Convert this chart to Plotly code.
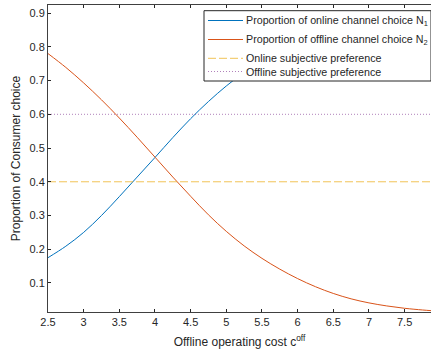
import plotly.graph_objects as go

# Offline operating cost (x) and the proportion of consumers choosing each channel
cost = [2.5, 2.75, 3.0, 3.25, 3.5, 3.75, 4.0, 4.25, 4.5, 4.75, 5.0, 5.25, 5.5,
        5.75, 6.0, 6.25, 6.5, 6.75, 7.0, 7.25, 7.5, 7.75, 7.87]
online_share = [0.175, 0.209, 0.250, 0.300, 0.356, 0.414, 0.472, 0.531, 0.587,
                0.638, 0.684, 0.724, 0.758, 0.787, 0.812, 0.833, 0.850, 0.864,
                0.876, 0.886, 0.894, 0.900, 0.902]
offline_share = [0.780, 0.739, 0.693, 0.643, 0.589, 0.532, 0.473, 0.414, 0.357,
                 0.302, 0.253, 0.210, 0.173, 0.141, 0.113, 0.089, 0.069, 0.053,
                 0.041, 0.032, 0.025, 0.020, 0.018]
online_pref = 0.4
offline_pref = 0.6

x_ticks = [2.5, 3, 3.5, 4, 4.5, 5, 5.5, 6, 6.5, 7, 7.5]
y_ticks = [0.1, 0.2, 0.3, 0.4, 0.5, 0.6, 0.7, 0.8, 0.9]

legend_labels = [
    "Proportion of online channel choice N<sub>1</sub>",
    "Proportion of offline channel choice N<sub>2</sub>",
    "Online subjective preference",
    "Offline subjective preference",
]

FONT = "Liberation Sans, Arial, sans-serif"
INK = "#262626"
W, H = 431, 356
ML, MR, MT, MB = 48, 0, 5, 44
PW, PH = W - ML - MR, H - MT - MB

styles = [
    dict(color="#0072BD", width=1),
    dict(color="#D95319", width=1),
    dict(color="#EDB120", width=1, dash="8px,3px"),
    dict(color="#7E2F8E", width=1, dash="1px,2px"),
]
opacities = [1, 1, 0.75, 0.6]

fig = go.Figure()
fig.add_trace(go.Scatter(x=cost, y=online_share, mode="lines",
                         line=dict(styles[0], shape="spline"), name=legend_labels[0]))
fig.add_trace(go.Scatter(x=cost, y=offline_share, mode="lines",
                         line=dict(styles[1], shape="spline"), name=legend_labels[1]))
fig.add_trace(go.Scatter(x=[cost[0], cost[-1]], y=[online_pref, online_pref], mode="lines",
                         line=styles[2], opacity=opacities[2], name=legend_labels[2]))
fig.add_trace(go.Scatter(x=[cost[0], cost[-1]], y=[offline_pref, offline_pref], mode="lines",
                         line=styles[3], opacity=opacities[3], name=legend_labels[3]))


def px_x(p):
    return (p - ML) / PW


def px_y(p):
    return 1 - (p - MT) / PH


# Boxed legend in the upper-right corner of the axes
box_l, box_r, box_t, box_b = 204, 431, 10.7, 81
fig.add_shape(type="rect", xref="paper", yref="paper", layer="above",
              x0=px_x(box_l), x1=px_x(box_r), y0=px_y(box_b), y1=px_y(box_t),
              line=dict(color=INK, width=1), fillcolor="white")
row_y = [20.5, 39.5, 58.3, 71.5]
for label, st, op, ry in zip(legend_labels, styles, opacities, row_y):
    fig.add_shape(type="line", xref="paper", yref="paper", layer="above",
                  x0=px_x(208), x1=px_x(243), y0=px_y(ry), y1=px_y(ry),
                  line=st, opacity=op)
    fig.add_annotation(xref="paper", yref="paper", x=px_x(244.5), y=px_y(ry),
                       xanchor="left", yanchor="middle", showarrow=False,
                       borderpad=0, text=label,
                       font=dict(family=FONT, size=10.7, color=INK))

axis_common = dict(
    showgrid=False, zeroline=False, ticks="inside", ticklen=3, tickwidth=1,
    tickcolor=INK, showline=True, linecolor="#404040", linewidth=1,
    tickfont=dict(family=FONT, size=11, color=INK),
)

fig.update_layout(
    width=W, height=H,
    margin=dict(l=ML, r=MR, t=MT, b=MB),
    paper_bgcolor="white", plot_bgcolor="white",
    font=dict(family=FONT, color=INK),
    showlegend=False,
    xaxis=dict(
        range=[2.5, 7.87], tickvals=x_ticks, ticktext=[f"{v:g}" for v in x_ticks],
        mirror="ticks",
        title=dict(text="Offline operating cost c<sup>off</sup>",
                   font=dict(family=FONT, size=12, color=INK), standoff=10),
        **axis_common),
    yaxis=dict(
        range=[0.014, 0.924], tickvals=y_ticks, ticktext=[f"{v:g}" for v in y_ticks],
        title=dict(text="Proportion of Consumer choice",
                   font=dict(family=FONT, size=12, color=INK), standoff=6),
        **axis_common),
)

fig.write_html("out.html")
